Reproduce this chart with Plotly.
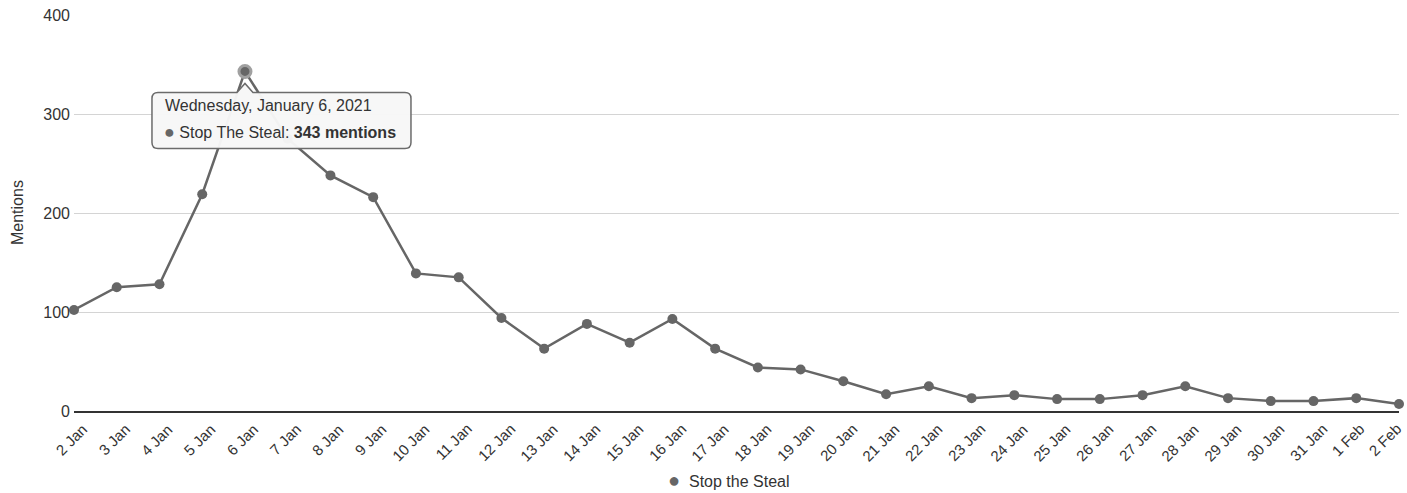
import plotly.graph_objects as go

# ---- data ----
dates = ["2021-01-02", "2021-01-03", "2021-01-04", "2021-01-05", "2021-01-06", "2021-01-07",
         "2021-01-08", "2021-01-09", "2021-01-10", "2021-01-11", "2021-01-12", "2021-01-13",
         "2021-01-14", "2021-01-15", "2021-01-16", "2021-01-17", "2021-01-18", "2021-01-19",
         "2021-01-20", "2021-01-21", "2021-01-22", "2021-01-23", "2021-01-24", "2021-01-25",
         "2021-01-26", "2021-01-27", "2021-01-28", "2021-01-29", "2021-01-30", "2021-01-31",
         "2021-02-01", "2021-02-02"]
tick_labels = ["2 Jan", "3 Jan", "4 Jan", "5 Jan", "6 Jan", "7 Jan", "8 Jan", "9 Jan", "10 Jan",
               "11 Jan", "12 Jan", "13 Jan", "14 Jan", "15 Jan", "16 Jan", "17 Jan", "18 Jan",
               "19 Jan", "20 Jan", "21 Jan", "22 Jan", "23 Jan", "24 Jan", "25 Jan", "26 Jan",
               "27 Jan", "28 Jan", "29 Jan", "30 Jan", "31 Jan", "1 Feb", "2 Feb"]
mentions = [102, 125, 128, 219, 343, 275, 238, 216, 139, 135, 94, 63, 88, 69, 93, 63, 44, 42,
            30, 17, 25, 13, 16, 12, 12, 16, 25, 13, 10, 10, 13, 7]
series_name = "Stop the Steal"
tooltip_series = "Stop The Steal"
tooltip_date = "Wednesday, January 6, 2021"
hover_index = 4

y_ticks = [0, 100, 200, 300, 400]
y_title = "Mentions"

LINE = "#666666"
TXT = "#333333"
FONT = "Liberation Sans, Arial, Helvetica, sans-serif"

W, H = 1407, 493
ML, MR, MT, MB = 74, 8, 15, 82

fig = go.Figure()

fig.add_trace(go.Scatter(
    x=dates, y=mentions, mode="lines+markers", name=series_name,
    line=dict(color=LINE, width=2.5),
    marker=dict(color=LINE, size=10),
    cliponaxis=False, showlegend=False, hoverinfo="skip"))

hx = dates[hover_index]
hy = mentions[hover_index]

# tooltip box (rounded) anchored to the hovered point, pixel offsets
left, right, top, bottom, r = -93, 166, -21, -77, 6
path = (f"M{left + r},{top} L{-8},{top} L0,{top + 9} L8,{top} L{right - r},{top} "
        f"Q{right},{top} {right},{top - r} L{right},{bottom + r} "
        f"Q{right},{bottom} {right - r},{bottom} L{left + r},{bottom} "
        f"Q{left},{bottom} {left},{bottom + r} L{left},{top - r} "
        f"Q{left},{top} {left + r},{top} Z")
fig.add_shape(type="path", xref="x", yref="y", xsizemode="pixel", ysizemode="pixel",
              xanchor=hx, yanchor=hy, path=path, fillcolor="rgba(247,247,247,0.97)",
              line=dict(color="#6b6b6b", width=1.5), layer="above")

# hovered point highlight
fig.add_trace(go.Scatter(
    x=[hx], y=[hy], mode="markers", showlegend=False, hoverinfo="skip",
    marker=dict(color=LINE, size=12, line=dict(color="#a0a0a0", width=3)),
    cliponaxis=False))

fig.add_annotation(x=hx, y=hy, xref="x", yref="y", showarrow=False,
                   text=tooltip_date, xanchor="left", yanchor="middle",
                   xshift=-82, yshift=-34.5, font=dict(size=16, color=TXT, family=FONT))
fig.add_annotation(x=hx, y=hy, xref="x", yref="y", showarrow=False,
                   text=(f"<span style='color:{LINE};font-size:18px'>●</span>"
                         f"\u00a0{tooltip_series}: <b>{hy} mentions</b>"),
                   xanchor="left", yanchor="middle",
                   xshift=-83, yshift=-60.5, font=dict(size=16, color=TXT, family=FONT))

# x tick labels, rotated, as annotations (last ones nudged to stay inside)
n = len(dates)
for i, (d, lab) in enumerate(zip(dates, tick_labels)):
    shift = 18
    if i == n - 1:
        shift = 7
    elif i == n - 2:
        shift = 13
    fig.add_annotation(x=d, y=0, xref="x", yref="y", text=lab, showarrow=False,
                       textangle=-45, xanchor="right", yanchor="top",
                       xshift=shift, yshift=-8, borderpad=0,
                       font=dict(size=15, color=TXT, family=FONT))

# y-axis title
fig.add_annotation(x=0, y=0.5, xref="paper", yref="paper", text=y_title, showarrow=False,
                   textangle=-90, xanchor="center", yanchor="middle", xshift=-57,
                   font=dict(size=16, color=TXT, family=FONT))

# legend (symbol + series name) below the axis labels
fig.add_annotation(x=0.5, y=0, xref="paper", yref="paper", showarrow=False,
                   text=(f"<span style='color:{LINE};font-size:20px'>●</span>"
                         f"\u00a0\u00a0{series_name}"),
                   xanchor="center", yanchor="middle", xshift=-8, yshift=-69,
                   borderpad=0,
                   font=dict(size=16, color=TXT, family=FONT))

fig.update_layout(
    width=W, height=H,
    margin=dict(l=ML, r=MR, t=MT, b=MB),
    paper_bgcolor="white", plot_bgcolor="white",
    font=dict(family=FONT, size=16, color=TXT),
    showlegend=False,
    hovermode=False,
)

fig.update_xaxes(
    type="date", range=[dates[0], dates[-1]], automargin=False,
    showticklabels=False, showgrid=False,
    showline=True, linecolor="#333333", linewidth=1.5, ticks="", zeroline=False)

fig.update_yaxes(
    range=[0, 400], tickmode="array", tickvals=y_ticks, automargin=False,
    tickfont=dict(size=16, color=TXT), showgrid=True, gridcolor="#d4d4d4", gridwidth=1,
    zeroline=False, ticks="", ticklabelstandoff=3)

fig.write_html("out.html",
               config={"displayModeBar": False},
               post_script="document.body.style.margin='0px';"
                           "document.body.style.overflow='hidden';")
